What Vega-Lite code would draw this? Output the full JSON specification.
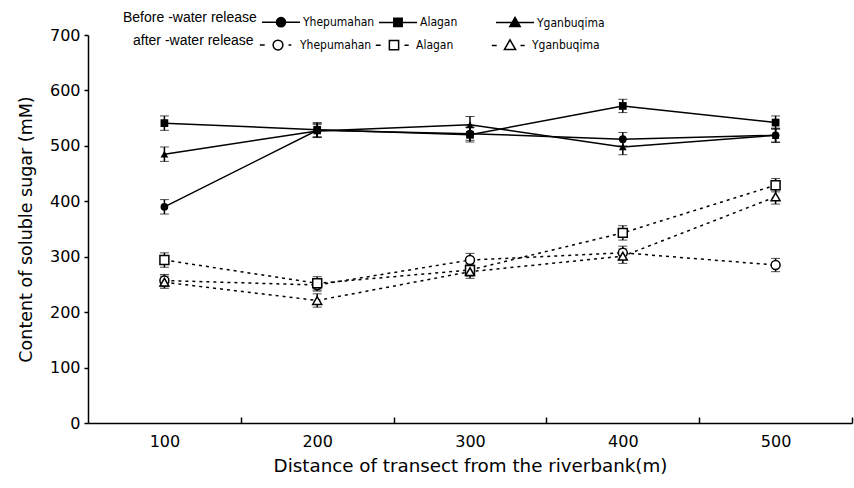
{
  "$schema": "https://vega.github.io/schema/vega-lite/v6.json",
  "width": 764,
  "height": 388,
  "autosize": {"type": "none"},
  "padding": {"left": 88, "top": 35, "right": 2, "bottom": 65},
  "background": "white",
  "config": {"view": {"stroke": null}, "font": "DejaVu Sans"},
  "data": {"values": [
    {"period": "before", "site": "Yhepumahan", "distance": 100, "sugar": 390, "err": 13},
    {"period": "before", "site": "Yhepumahan", "distance": 200, "sugar": 528, "err": 12},
    {"period": "before", "site": "Yhepumahan", "distance": 300, "sugar": 522, "err": 12},
    {"period": "before", "site": "Yhepumahan", "distance": 400, "sugar": 512, "err": 12},
    {"period": "before", "site": "Yhepumahan", "distance": 500, "sugar": 519, "err": 13},
    {"period": "before", "site": "Alagan", "distance": 100, "sugar": 541, "err": 13},
    {"period": "before", "site": "Alagan", "distance": 200, "sugar": 529, "err": 13},
    {"period": "before", "site": "Alagan", "distance": 300, "sugar": 520, "err": 13},
    {"period": "before", "site": "Alagan", "distance": 400, "sugar": 572, "err": 12},
    {"period": "before", "site": "Alagan", "distance": 500, "sugar": 542, "err": 12},
    {"period": "before", "site": "Yganbuqima", "distance": 100, "sugar": 485, "err": 13},
    {"period": "before", "site": "Yganbuqima", "distance": 200, "sugar": 527, "err": 12},
    {"period": "before", "site": "Yganbuqima", "distance": 300, "sugar": 538, "err": 15},
    {"period": "before", "site": "Yganbuqima", "distance": 400, "sugar": 498, "err": 14},
    {"period": "before", "site": "Yganbuqima", "distance": 500, "sugar": 519, "err": 12},
    {"period": "after", "site": "Yhepumahan", "distance": 100, "sugar": 257, "err": 11},
    {"period": "after", "site": "Yhepumahan", "distance": 200, "sugar": 249, "err": 11},
    {"period": "after", "site": "Yhepumahan", "distance": 300, "sugar": 294, "err": 12},
    {"period": "after", "site": "Yhepumahan", "distance": 400, "sugar": 307, "err": 12},
    {"period": "after", "site": "Yhepumahan", "distance": 500, "sugar": 285, "err": 12},
    {"period": "after", "site": "Alagan", "distance": 100, "sugar": 294, "err": 13},
    {"period": "after", "site": "Alagan", "distance": 200, "sugar": 252, "err": 12},
    {"period": "after", "site": "Alagan", "distance": 300, "sugar": 276, "err": 11},
    {"period": "after", "site": "Alagan", "distance": 400, "sugar": 343, "err": 13},
    {"period": "after", "site": "Alagan", "distance": 500, "sugar": 429, "err": 12},
    {"period": "after", "site": "Yganbuqima", "distance": 100, "sugar": 254, "err": 11},
    {"period": "after", "site": "Yganbuqima", "distance": 200, "sugar": 221, "err": 12},
    {"period": "after", "site": "Yganbuqima", "distance": 300, "sugar": 273, "err": 12},
    {"period": "after", "site": "Yganbuqima", "distance": 400, "sugar": 301, "err": 13},
    {"period": "after", "site": "Yganbuqima", "distance": 500, "sugar": 408, "err": 13}
  ]},
  "encoding": {
    "x": {
      "field": "distance", "type": "quantitative",
      "scale": {"domain": [50, 550], "nice": false, "zero": false},
      "axis": {
        "title": "Distance of transect from the riverbank(m)",
        "values": [100, 150, 200, 250, 300, 350, 400, 450, 500, 550],
        "labelExpr": "datum.value % 100 === 0 ? datum.label : ''",
        "tickOpacity": {"condition": {"test": "datum.value % 100 === 0", "value": 0}, "value": 1},
        "tickSize": -6, "tickColor": "black", "tickWidth": 1.5,
        "domainColor": "black", "domainWidth": 1.5,
        "labelFontSize": 16, "labelColor": "black", "labelPadding": 16,
        "labelFlush": false, "labelOverlap": false,
        "titleFontSize": 18.3, "titleFontWeight": "normal", "titleColor": "black", "titlePadding": 8,
        "grid": false
      }
    },
    "y": {
      "field": "sugar", "type": "quantitative",
      "scale": {"domain": [0, 700], "nice": false},
      "axis": {
        "title": "Content of soluble sugar (mM)",
        "values": [0, 100, 200, 300, 400, 500, 600, 700],
        "tickSize": 4, "tickColor": "black", "tickWidth": 1.5,
        "domainColor": "black", "domainWidth": 1.5,
        "labelFontSize": 16, "labelColor": "black", "labelPadding": 4,
        "titleFontSize": 17.5, "titleFontWeight": "normal", "titleColor": "black", "titlePadding": 14,
        "grid": false
      }
    }
  },
  "layer": [
    {
      "transform": [{"filter": "datum.period === 'before'"}],
      "layer": [
        {"mark": {"type": "line", "color": "black", "strokeWidth": 1.5}, "encoding": {"detail": {"field": "site"}}},
        {"mark": {"type": "errorbar", "ticks": {"size": 9, "color": "black", "strokeWidth": 1.5}, "rule": {"color": "black", "strokeWidth": 1.5}}, "encoding": {"yError": {"field": "err"}}},
        {"transform": [{"filter": "datum.site === 'Yhepumahan'"}], "mark": {"type": "point", "shape": "circle", "filled": true, "color": "black", "size": 60, "opacity": 1}},
        {"transform": [{"filter": "datum.site === 'Alagan'"}], "mark": {"type": "point", "shape": "square", "filled": true, "color": "black", "size": 60, "opacity": 1}},
        {"transform": [{"filter": "datum.site === 'Yganbuqima'"}], "mark": {"type": "point", "shape": "triangle-up", "filled": true, "color": "black", "size": 60, "opacity": 1}},
        {
          "mark": {"type": "point", "filled": false, "color": "black", "fill": "black", "fillOpacity": 1, "strokeWidth": 1.5, "size": 0, "opacity": 1},
          "encoding": {
            "shape": {
              "field": "site", "type": "nominal",
              "scale": {"domain": ["Yhepumahan", "Alagan", "Yganbuqima"], "range": [
                "M-1.36,0H1.36M0.33,0A0.33,0.33 0 1,1 -0.33,0A0.33,0.33 0 1,1 0.33,0Z",
                "M-1.36,0H1.36M-0.3,-0.3H0.3V0.3H-0.3Z",
                "M-1.36,0H1.36M0,-0.37L0.37,0.27H-0.37Z"
              ]},
              "legend": {
                "title": "Before -water release", "orient": "none", "legendX": 35, "legendY": -28,
                "direction": "horizontal", "columns": 3, "titleOrient": "left", "gridAlign": "all",
                "titleFont": "Liberation Sans", "titleFontSize": 14, "titleFontWeight": "normal", "titleColor": "black", "titlePadding": 9,
                "labelFont": "DejaVu Sans Condensed, Liberation Sans", "labelFontSize": 12, "labelColor": "black", "labelOffset": 7,
                "symbolSize": 784, "columnPadding": 0,
                "symbolStrokeWidth": 1.5, "symbolOpacity": 1
              }
            }
          }
        }
      ]
    },
    {
      "transform": [{"filter": "datum.period === 'after'"}],
      "layer": [
        {"mark": {"type": "line", "color": "black", "strokeWidth": 1.5, "strokeDash": [3, 4]}, "encoding": {"detail": {"field": "site"}}},
        {"mark": {"type": "errorbar", "ticks": {"size": 9, "color": "black", "strokeWidth": 1.5}, "rule": {"color": "black", "strokeWidth": 1.5}}, "encoding": {"yError": {"field": "err"}}},
        {"transform": [{"filter": "datum.site === 'Yhepumahan'"}], "mark": {"type": "point", "shape": "circle", "filled": false, "fill": "white", "fillOpacity": 1, "color": "black", "strokeWidth": 1.5, "size": 80, "opacity": 1}},
        {"transform": [{"filter": "datum.site === 'Alagan'"}], "mark": {"type": "point", "shape": "square", "filled": false, "fill": "white", "fillOpacity": 1, "color": "black", "strokeWidth": 1.5, "size": 80, "opacity": 1}},
        {"transform": [{"filter": "datum.site === 'Yganbuqima'"}], "mark": {"type": "point", "shape": "triangle-up", "filled": false, "fill": "white", "fillOpacity": 1, "color": "black", "strokeWidth": 1.5, "size": 80, "opacity": 1}},
        {
          "mark": {"type": "point", "filled": false, "color": "black", "strokeWidth": 1.5, "size": 0, "opacity": 1},
          "encoding": {
            "shape": {
              "field": "site", "type": "nominal",
              "scale": {"domain": ["Yhepumahan", "Alagan", "Yganbuqima"], "range": [
                "M-1.3,0H-0.95M0.75,0H0.95M0.35,0A0.35,0.35 0 1,1 -0.35,0A0.35,0.35 0 1,1 0.35,0Z",
                "M-1.3,0H-0.95M0.75,0H1.05M-0.33,-0.33H0.33V0.33H-0.33Z",
                "M-1.3,0H-0.95M0.75,0H1.05M0,-0.4L0.4,0.3H-0.4Z"
              ]},
              "legend": {
                "title": "after -water release", "orient": "none", "legendX": 45, "legendY": -5,
                "direction": "horizontal", "columns": 3, "titleOrient": "left", "gridAlign": "all",
                "titleFont": "Liberation Sans", "titleFontSize": 14, "titleFontWeight": "normal", "titleColor": "black", "titlePadding": 9,
                "labelFont": "DejaVu Sans Condensed, Liberation Sans", "labelFontSize": 12, "labelColor": "black", "labelOffset": 7,
                "symbolSize": 784, "columnPadding": 0,
                "symbolStrokeWidth": 1.5, "symbolOpacity": 1
              }
            }
          }
        }
      ]
    }
  ],
  "resolve": {"scale": {"shape": "independent"}, "legend": {"shape": "independent"}}
}
